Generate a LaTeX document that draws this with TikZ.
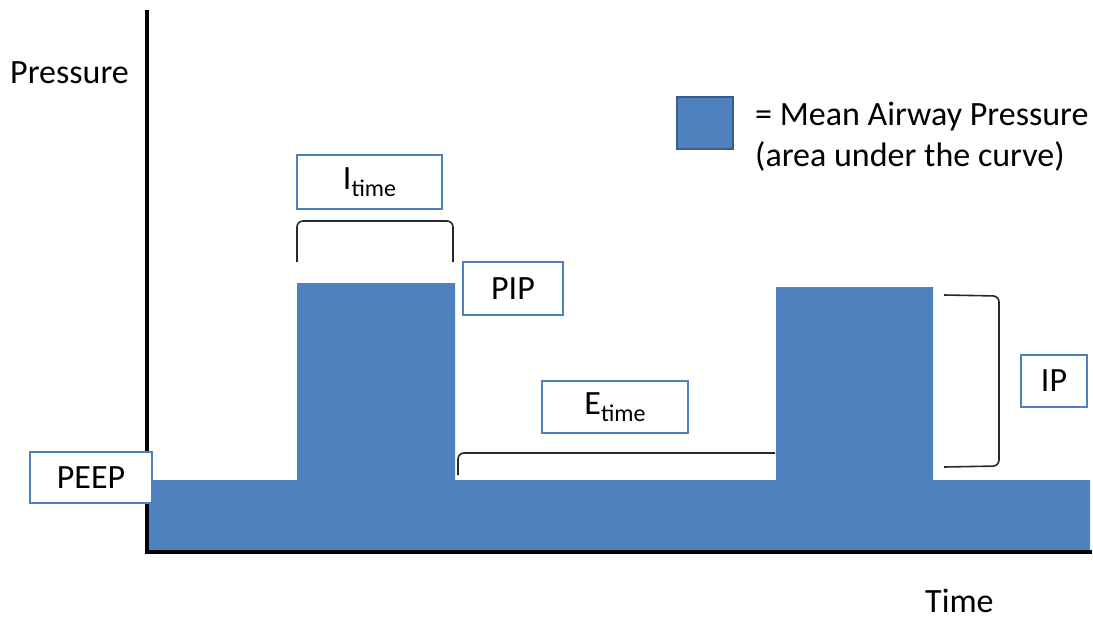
\documentclass[tikz,border=0pt]{standalone}
\usepackage{fontspec}
\setmainfont{Carlito}
\definecolor{mapblue}{RGB}{79,129,189}
\definecolor{mapdark}{RGB}{56,93,138}
\definecolor{brk}{RGB}{40,40,40}
\newcommand{\subtime}{\raisebox{-0.45ex}{\fontsize{24}{26}\selectfont time}}
\begin{document}
\begin{tikzpicture}[x=1pt,y=-1pt,
  lbl/.style={draw=mapblue,line width=2.8pt,fill=white,inner sep=0pt,font=\fontsize{34}{40}\selectfont},
  bracketline/.style={draw=brk,line width=1.6pt,rounded corners=6pt},
  txt/.style={inner sep=0pt,anchor=west,font=\fontsize{34}{40}\selectfont}]
\useasboundingbox (0,0) rectangle (1093,619);
% area under the curve
\fill[mapblue] (149,550) -- (149,480) -- (297,480) -- (297,283) -- (455,283) -- (455,480)
  -- (776,480) -- (776,287) -- (933,287) -- (933,480) -- (1090,480) -- (1090,550) -- cycle;
% axes
\coordinate (ytop) at (147,12);
\coordinate (orig) at (147,552);
\coordinate (xend) at (1090,552);
\draw[line width=4pt,line cap=rect] (ytop) -- (orig) -- (xend);
% brackets
\coordinate (i1) at (297,262); \coordinate (i2) at (453,262);
\draw[bracketline] (i1) -- (297,221) -- (453,221) -- (i2);
\coordinate (e1) at (458,475); \coordinate (e2) at (775,453);
\draw[bracketline] (e1) -- (458,453) -- (e2);
\coordinate (p1) at (944,295); \coordinate (p2) at (944,467);
\draw[bracketline] (p1) -- (999,296) -- (999,466) -- (p2);
% label boxes
\node[lbl,minimum width=145pt,minimum height=54pt] (itime) at (369.5,182) {I\subtime};
\node[lbl,minimum width=100pt,minimum height=53pt] (pip) at (513,288.5) {PIP};
\node[lbl,minimum width=146pt,minimum height=52pt] (etime) at (615,407) {E\subtime};
\node[lbl,minimum width=66pt,minimum height=52pt] (ip) at (1054,381) {IP};
\node[lbl,minimum width=122pt,minimum height=51pt] (peep) at (91,477.5) {PEEP};
% legend
\node[draw=mapdark,line width=1.5pt,fill=mapblue,minimum width=56pt,minimum height=52pt,inner sep=0pt] (legend) at (705,123) {};
\node[txt] (leg1) at (755,117) {= Mean Airway Pressure};
\node[txt] (leg2) at (755,156) {(area under the curve)};
% axis titles
\node[txt] (ylab) at (10,73) {Pressure};
\node[txt] (xlab) at (925,601) {Time};
\end{tikzpicture}
\end{document}
